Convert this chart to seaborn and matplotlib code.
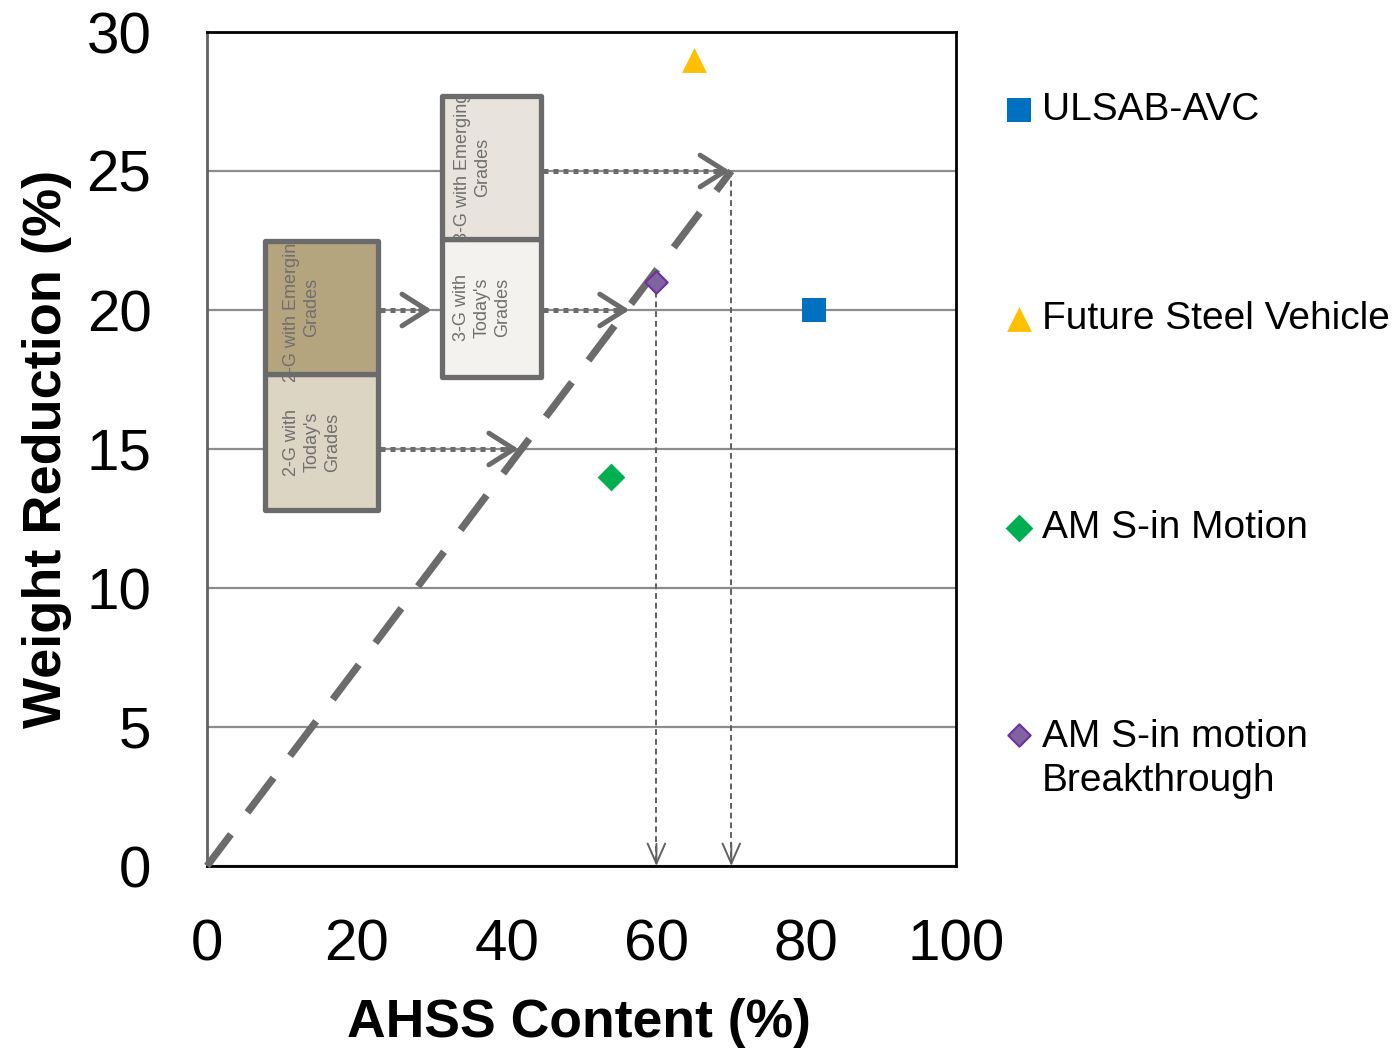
import matplotlib
matplotlib.use("Agg")
import matplotlib.pyplot as plt
import matplotlib.patches as mpatches
from matplotlib.ticker import MultipleLocator
from matplotlib.transforms import Bbox, TransformedBbox
from matplotlib.legend_handler import HandlerPathCollection
import seaborn as sns

# --- chart data ---
programs = ["ULSAB-AVC", "Future Steel Vehicle", "AM S-in Motion",
            "AM S-in motion\nBreakthrough"]
ahss_content = [81, 65, 54, 60]
weight_reduction = [20, 29, 14, 21]

# target line (AHSS content vs weight reduction)
trend_x = [0, 70]
trend_y = [0, 25]

x_ticks = [0, 20, 40, 60, 80, 100]
y_ticks = [0, 5, 10, 15, 20, 25, 30]

# steel generation boxes
box_labels = ["2-G with\nToday's\nGrades", "2-G with Emerging\nGrades",
              "3-G with\nToday's\nGrades", "3-G with Emerging\nGrades"]
box_left = [7.7, 7.7, 31.4, 31.4]
box_right = [22.8, 22.8, 44.6, 44.6]
box_bottom = [12.8, 17.7, 17.6, 22.55]
box_top = [17.7, 22.5, 22.55, 27.7]
box_colors = ["#ddd5c3", "#b5a57f", "#f3f2ee", "#e8e4dd"]
text_shift = [-1.2, -2.6, -1.3, -2.6]

# dotted arrows out of the boxes
arrow_start = [22.8, 22.8, 44.6, 44.6]
arrow_end = [41.6, 30.0, 56.4, 69.8]
arrow_level = [15, 20, 20, 25]

# thin drop lines down to the x axis
drop_x = [60, 70]
drop_top = [21, 25]

colors = ["#0070c0", "#ffc000", "#00b050", "#8064a2"]
edge_colors = ["#0070c0", "#ffc000", "#00b050", "#7030a0"]
markers = ["s", "^", "D", "D"]
sizes = [300, 320, 200, 130]

GREY = "#6b6b6b"


class FirstLineHandler(HandlerPathCollection):
    # put the marker next to the first line of a two-line label
    def create_artists(self, legend, orig_handle, xdescent, ydescent, width,
                       height, fontsize, trans):
        arts = super().create_artists(legend, orig_handle, xdescent, ydescent,
                                      width, height, fontsize, trans)
        for a in arts:
            a.set_offsets(a.get_offsets() + [0, 20])
        return arts


sns.set_theme(style="white")
plt.rcParams['font.family'] = ['Liberation Sans', 'DejaVu Sans']

fig = plt.figure(figsize=(13.95, 10.54), dpi=100)
ax = fig.add_axes([207 / 1395, 1 - 866 / 1054, 749 / 1395, 834 / 1054])

# boxes
for i in range(len(box_labels)):
    rect = mpatches.Rectangle((box_left[i], box_bottom[i]),
                              box_right[i] - box_left[i], box_top[i] - box_bottom[i],
                              facecolor=box_colors[i], edgecolor=GREY, lw=3.8,
                              joinstyle="round", zorder=3)
    ax.add_patch(rect)

for i in range(len(box_labels)):
    cx = (box_left[i] + box_right[i]) / 2 + text_shift[i]
    cy = (box_bottom[i] + box_top[i]) / 2
    t = ax.text(cx, cy, box_labels[i], rotation=90, ha="center", va="center",
                multialignment="center", fontsize=13, color="#6f6f6f",
                linespacing=1.25, zorder=4)
    # clip to the whole generation box (both halves)
    grp = i // 2
    bb = Bbox.from_extents(box_left[2 * grp], box_bottom[2 * grp],
                           box_right[2 * grp], box_top[2 * grp + 1])
    t.set_clip_box(TransformedBbox(bb, ax.transData))
    t.set_clip_on(True)

# dotted arrows
for x0, x1, y in zip(arrow_start, arrow_end, arrow_level):
    ax.plot([x0 + 0.3, x1 - 1.0], [y, y], color=GREY, lw=3.6,
            ls=(0, (1, 1)), dash_capstyle="butt", zorder=5)
    ax.annotate("", xy=(x1, y), xytext=(x1 - 1.5, y),
                arrowprops=dict(arrowstyle="->,head_length=0.6,head_width=0.38",
                                color=GREY, lw=3.6, mutation_scale=30,
                                shrinkA=0, shrinkB=0, capstyle="round"),
                zorder=5)

# drop lines
for x, y in zip(drop_x, drop_top):
    ax.plot([x, x], [y, 0.2], color="#606060", lw=1.4, ls=(0, (3, 2)), zorder=5)
    ax.annotate("", xy=(x, 0.0), xytext=(x, 0.8),
                arrowprops=dict(arrowstyle="->,head_length=0.8,head_width=0.35",
                                color="#606060", lw=1.4, mutation_scale=18,
                                shrinkA=0, shrinkB=0),
                zorder=5)

# target line
sns.lineplot(x=trend_x, y=trend_y, ax=ax, color=GREY, lw=5.2,
             ls=(0.5, (6, 3.8)), zorder=6)
ax.lines[-1].set_dash_capstyle("butt")
ax.lines[-1].set_clip_on(False)

# program points
for i, name in enumerate(programs):
    sns.scatterplot(x=[ahss_content[i]], y=[weight_reduction[i]], ax=ax,
                    marker=markers[i], s=sizes[i], color=colors[i],
                    edgecolor=edge_colors[i], linewidth=1.5 if i == 3 else 0,
                    label=name, zorder=7)

ax.set_xlim(0, 100)
ax.set_ylim(0, 30)
ax.set_xticks(x_ticks)
ax.set_yticks(y_ticks)
ax.xaxis.set_minor_locator(MultipleLocator(10))
ax.yaxis.grid(True, color="#8c8c8c", lw=1.6, zorder=0)
ax.set_axisbelow(True)

for side in ["top", "right", "bottom"]:
    ax.spines[side].set_color("black")
    ax.spines[side].set_linewidth(2)
ax.spines["left"].set_color("#606060")
ax.spines["left"].set_linewidth(2)

ax.tick_params(axis="x", which="major", direction="in", length=14, width=2,
               color="black", pad=38, labelsize=42, labelcolor="black")
ax.tick_params(axis="x", which="minor", direction="in", length=10, width=2,
               color="black")
ax.tick_params(axis="y", direction="in", length=14, width=2, color="#606060",
               pad=40, labelsize=42, labelcolor="black")

ax.set_xlabel("AHSS Content (%)", fontsize=38.5, fontweight="bold", color="black")
ax.set_ylabel("Weight Reduction (%)", fontsize=39, fontweight="bold", color="black")
ax.xaxis.set_label_coords(0.497, -0.158)
ax.yaxis.set_label_coords(-0.18, 0.5)

handles, labels = ax.get_legend_handles_labels()
leg = ax.legend(handles, labels, loc="upper left", bbox_to_anchor=(1.058, 0.928),
                frameon=False, borderaxespad=0, borderpad=0, handletextpad=0.1,
                handlelength=1.0, labelspacing=4.45, prop={"size": 28},
                alignment="left", handler_map={handles[3]: FirstLineHandler()})
for txt in leg.get_texts():
    txt.set_linespacing(1.27)
    txt.set_color("black")

fig.savefig("out.png", dpi=100)
